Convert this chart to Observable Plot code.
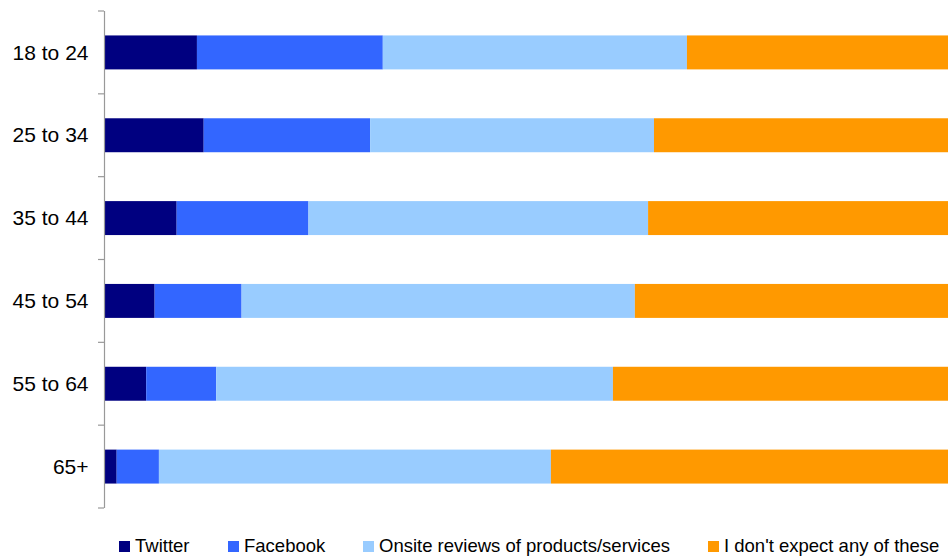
<!DOCTYPE html>
<html><head><meta charset="utf-8">
<script src="https://cdn.jsdelivr.net/npm/d3@7"></script>
<script src="https://cdn.jsdelivr.net/npm/@observablehq/plot@0.6"></script>
<style>
body{margin:0;background:#fff;font-family:"Liberation Sans",Arial,sans-serif;}
#wrap{position:relative;width:948px;height:557px;}
#legend{position:absolute;top:535px;left:0;width:948px;height:24px;font-size:18.5px;color:#000;}
.item{position:absolute;top:0;display:flex;align-items:center;white-space:nowrap;}
.sw{width:11px;height:11px;margin-right:5px;display:inline-block;}
</style></head>
<body><div id="wrap"><div id="chart"></div><div id="legend"></div></div>
<script>
const categories = ["18 to 24","25 to 34","35 to 44","45 to 54","55 to 64","65+"];
const series = ["Twitter","Facebook","Onsite reviews of products/services","I don't expect any of these"];
const twitter  = [11.0, 11.8,  8.6,  6.0,  5.0,  1.5];
const facebook = [22.0, 19.7, 15.6, 10.3,  8.3,  5.0];
const onsite   = [36.0, 33.6, 40.2, 46.6, 47.0, 46.4];
const none     = [30.9, 34.8, 35.5, 37.1, 39.7, 47.0];
const colors = ["#000080","#3366FF","#99CCFF","#FF9900"];
const legendLeft = [119, 228, 363, 708];

const cols = [twitter, facebook, onsite, none];
const data = [];
categories.forEach((c, i) => series.forEach((s, j) => data.push({age: c, series: s, value: cols[j][i]})));

const n = categories.length;
const chart = Plot.plot({
  width: 948, height: 520,
  marginLeft: 104, marginRight: 0, marginTop: 11, marginBottom: 12,
  x: {axis: null, domain: [0, 1], round: false},
  y: {domain: categories, paddingInner: 0.59, paddingOuter: 0.295, round: false, label: null},
  color: {domain: series, range: colors},
  style: {fontFamily: '"Liberation Sans", Arial, sans-serif', fontSize: "21px", color: "#000", background: "#fff"},
  marks: [
    Plot.barX(data, Plot.stackX({x: "value", y: "age", fill: "series", order: series, offset: "normalize"})),
    Plot.axisY({tickSize: 0, tickPadding: 16, fontSize: 21, fill: "#000"}),
    Plot.ruleX([0], {stroke: "#999", strokeWidth: 1.2}),
    (index, scales, values, dims) => {
      const g = d3.create("svg:g").attr("stroke", "#999").attr("stroke-width", 1.2);
      const top = dims.marginTop, bot = dims.height - dims.marginBottom;
      const step = (bot - top) / n;
      for (let i = 0; i <= n; i++) {
        const yy = top + i * step;
        g.append("line").attr("x1", dims.marginLeft - 6).attr("x2", dims.marginLeft).attr("y1", yy).attr("y2", yy);
      }
      return g.node();
    }
  ]
});
document.getElementById("chart").appendChild(chart);

const legend = document.getElementById("legend");
series.forEach((s, j) => {
  const it = document.createElement("div");
  it.className = "item";
  it.style.left = legendLeft[j] + "px";
  it.innerHTML = `<span class="sw" style="background:${colors[j]}"></span><span></span>`;
  it.lastChild.textContent = s;
  legend.appendChild(it);
});
</script></body></html>
